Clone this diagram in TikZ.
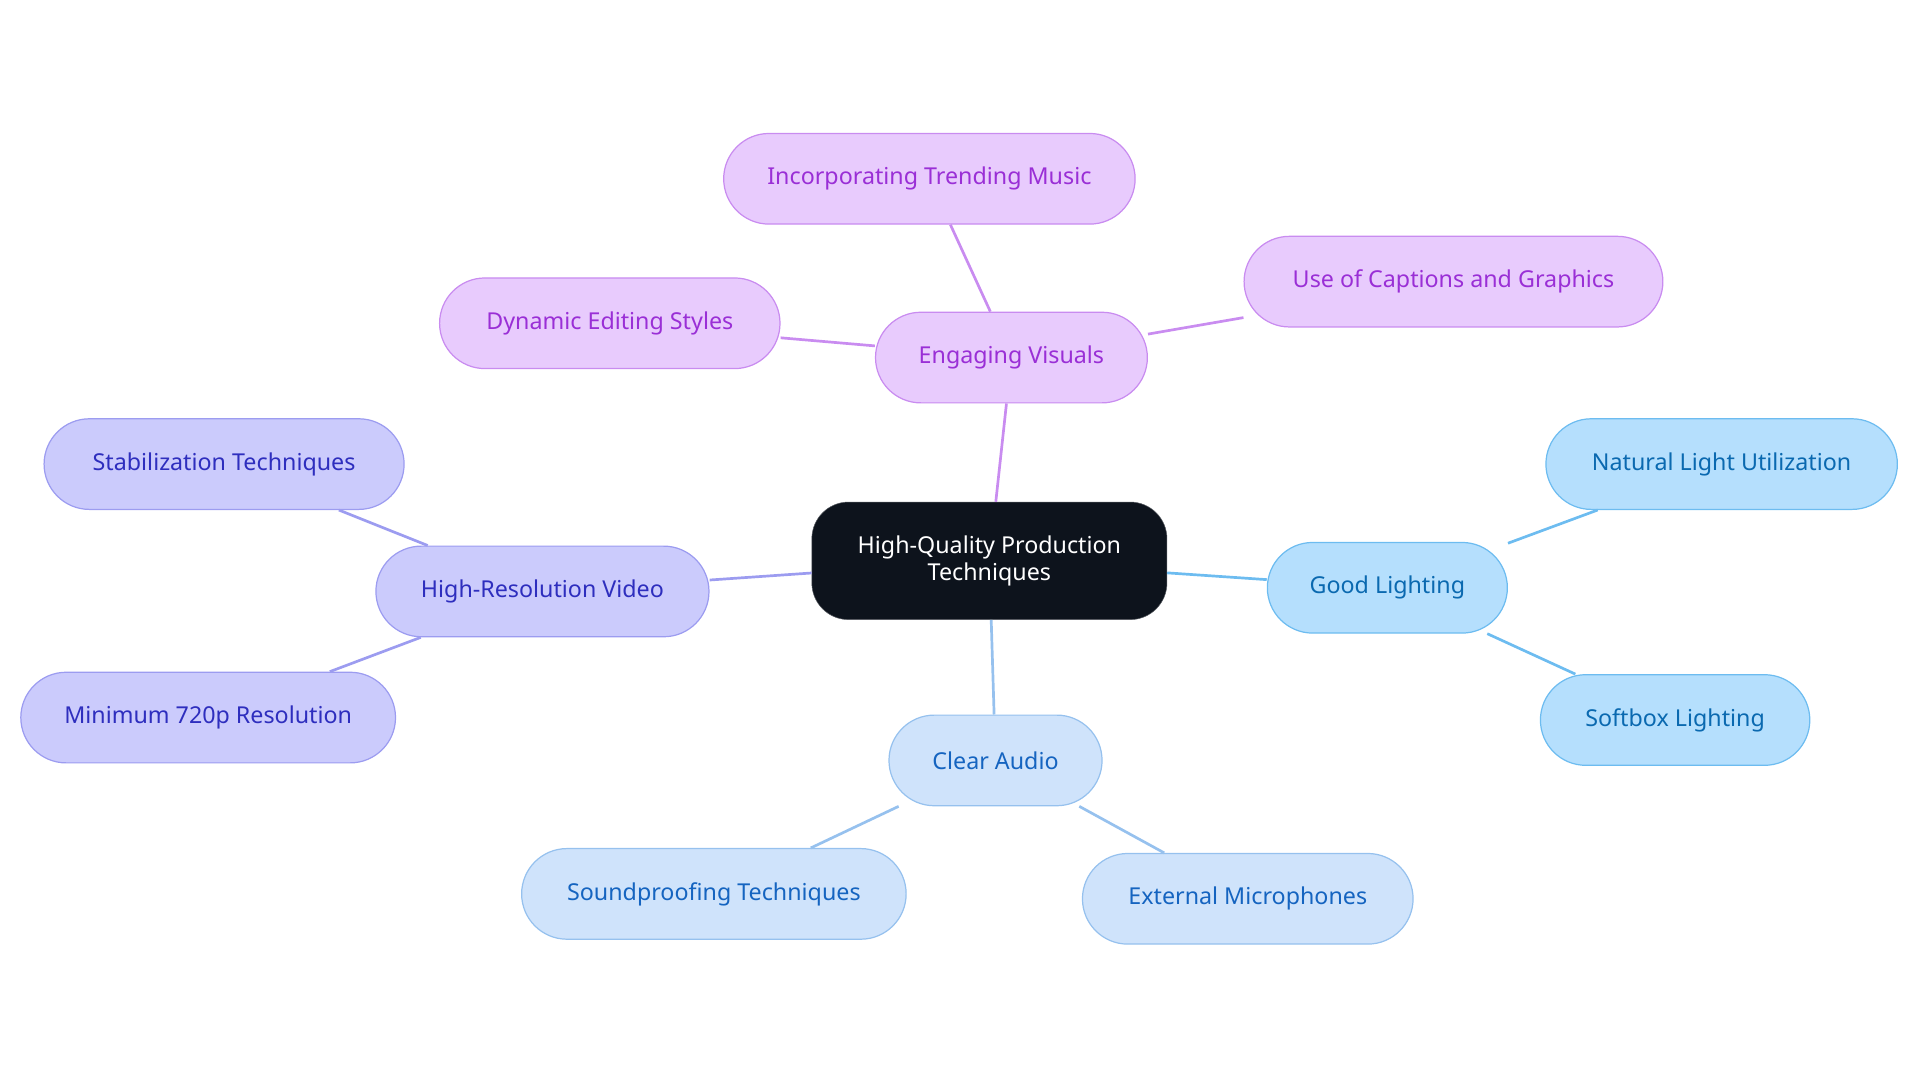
\documentclass[tikz,border=0pt]{standalone}
\usepackage{fontspec}
\setmainfont{Noto Sans}
\definecolor{hubfill}{HTML}{0D131C}
\definecolor{purfill}{HTML}{E8CBFD}\definecolor{purline}{HTML}{C98CF0}\definecolor{purtext}{HTML}{9A2FD6}
\definecolor{vlfill}{HTML}{CBCBFC}\definecolor{vlline}{HTML}{9C9CF0}\definecolor{vltext}{HTML}{2E2EBE}
\definecolor{lbfill}{HTML}{B5DFFD}\definecolor{lbline}{HTML}{6DBCF0}\definecolor{lbtext}{HTML}{0A69B0}
\definecolor{pbfill}{HTML}{CFE3FB}\definecolor{pbline}{HTML}{96C1EE}\definecolor{pbtext}{HTML}{1564C0}
\tikzset{
  leaf/.style={rounded corners=37pt,minimum height=74pt,line width=1pt,
    font=\fontsize{19}{23}\selectfont,inner sep=0pt},
  pur/.style={leaf,fill=purfill,draw=purline,text=purtext},
  vl/.style={leaf,fill=vlfill,draw=vlline,text=vltext},
  lb/.style={leaf,fill=lbfill,draw=lbline,text=lbtext},
  pb/.style={leaf,fill=pbfill,draw=pbline,text=pbtext},
  link/.style={line width=2.2pt}
}
\begin{document}
\begin{tikzpicture}[x=1pt,y=-1pt]
  \useasboundingbox (0,0) rectangle (1568,884);
  % hub
  \node[rounded corners=30pt,fill=hubfill,draw=hubfill!70!white,text=white,
    minimum width=290pt,minimum height=96pt,align=center,
    font=\fontsize{19}{22}\selectfont] (hub) at (808,458)
    {High-Quality Production\\Techniques};
  % engaging visuals
  \node[pur,minimum width=222pt] (vis) at (826,292) {Engaging Visuals};
  \node[pur,minimum width=336pt] (music) at (759,146) {Incorporating Trending Music};
  \node[pur,minimum width=342pt] (capt) at (1187,230) {Use of Captions and Graphics};
  \node[pur,minimum width=278pt] (edit) at (498,264) {Dynamic Editing Styles};
  % video
  \node[vl,minimum width=272pt] (video) at (443,483) {High-Resolution Video};
  \node[vl,minimum width=294pt] (stab) at (183,379) {Stabilization Techniques};
  \node[vl,minimum width=306pt] (res) at (170,586) {Minimum 720p Resolution};
  % lighting
  \node[lb,minimum width=196pt] (light) at (1133,480) {Good Lighting};
  \node[lb,minimum width=287pt] (natural) at (1406,379) {Natural Light Utilization};
  \node[lb,minimum width=220pt] (softbox) at (1368,588) {Softbox Lighting};
  % audio
  \node[pb,minimum width=174pt] (audio) at (813,621) {Clear Audio};
  \node[pb,minimum width=314pt] (sound) at (583,730) {Soundproofing Techniques};
  \node[pb,minimum width=270pt] (mic) at (1019,734) {External Microphones};
  % links
  \begin{scope}[on background layer/.style={}]
  \end{scope}
  \draw[link,purline] (hub) -- (vis);
  \draw[link,purline] (vis) -- (music);
  \draw[link,purline] (vis) -- (capt);
  \draw[link,purline] (vis) -- (edit);
  \draw[link,vlline] (hub) -- (video);
  \draw[link,vlline] (video) -- (stab);
  \draw[link,vlline] (video) -- (res);
  \draw[link,lbline] (hub) -- (light);
  \draw[link,lbline] (light) -- (natural);
  \draw[link,lbline] (light) -- (softbox);
  \draw[link,pbline] (hub) -- (audio);
  \draw[link,pbline] (audio) -- (sound);
  \draw[link,pbline] (audio) -- (mic);
\end{tikzpicture}
\end{document}
